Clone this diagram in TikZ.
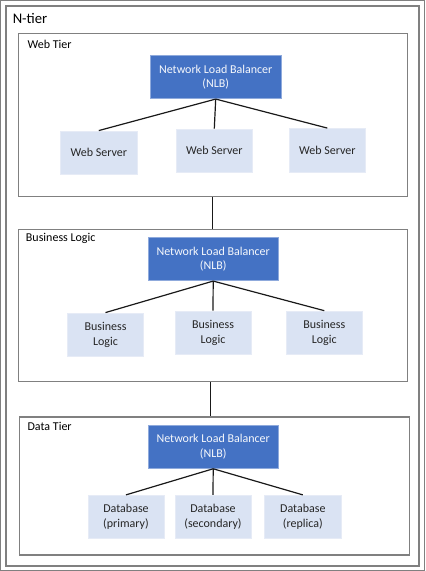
\documentclass[tikz,border=0pt]{standalone}
\usepackage{fontspec}
\setmainfont{Carlito}

\definecolor{nlbblue}{HTML}{4472C4}
\definecolor{nlbline}{HTML}{8FAADC}
\definecolor{srvfill}{HTML}{DAE3F3}
\definecolor{srvline}{HTML}{E6EBF6}
\definecolor{framegray}{HTML}{808080}

\tikzset{
    tierbox/.style={draw=framegray, line width=0.8pt, inner sep=0pt},
    tierlabel/.style={anchor=base west, inner sep=0pt, font=\fontsize{9}{11}\selectfont},
    nlbbox/.style={fill=nlbblue, draw=nlbline, line width=0.5pt, text=white!95!nlbblue,
        minimum width=97.9pt, minimum height=32.6pt, inner sep=0pt, align=center,
        font=\fontsize{9}{11}\selectfont},
    srvbox/.style={fill=srvfill, draw=srvline, line width=0.5pt, text=black!85,
        minimum width=57.2pt, minimum height=32.7pt, inner sep=0pt, align=center,
        font=\fontsize{9}{11}\selectfont},
    link/.style={line width=0.9pt, black!90}
}

\begin{document}
\begin{tikzpicture}[x=0.75pt, y=-0.75pt]

    % Fix the size of the picture
    \useasboundingbox (0,0) rectangle (425,571);

    % Outer border and the N-tier frame
    \draw[framegray, line width=1.1pt] (0.7,0.7) rectangle (424.3,570.3);
    \draw[framegray, line width=0.8pt] (6,6) rectangle (419,566);
    \node[anchor=base west, inner sep=0pt, font=\fontsize{11}{13}\selectfont] (ntier) at (12.5,23) {N-tier};

    % The three tiers
    \node[tierbox, minimum width=291.75pt, minimum height=122pt] (web) at (212.8,114.7) {};
    \node[tierbox, minimum width=291.75pt, minimum height=114pt] (biz) at (212.8,305.3) {};
    \node[tierbox, minimum width=292.2pt, minimum height=103.5pt] (data) at (214.5,486) {};

    % Tier names
    \node[tierlabel] (webname) at (27.3,48.3) {Web Tier};
    \node[tierlabel] (bizname) at (25.7,241.7) {Business Logic};
    \node[tierlabel] (dataname) at (27.3,430.3) {Data Tier};

    % Links between the tiers
    \draw[link] (web.south) -- (biz.north);
    \draw[link] ([xshift=-2pt]biz.south) -- ([xshift=-2pt]biz.south |- data.north);

    % Web tier
    \node[nlbbox] (nlbW) at (215.7,77) {Network Load Balancer\\(NLB)};
    \node[srvbox] (ws1) at (98.8,152.7) {Web Server};
    \node[srvbox] (ws2) at (214.3,150.8) {Web Server};
    \node[srvbox] (ws3) at (327.3,150.2) {Web Server};

    % Business logic tier
    \node[nlbbox] (nlbB) at (213.2,259) {Network Load Balancer\\(NLB)};
    \node[srvbox] (bl1) at (105.5,334.7) {Business\\Logic};
    \node[srvbox] (bl2) at (213,332.8) {Business\\Logic};
    \node[srvbox] (bl3) at (324.3,332.8) {Business\\Logic};

    % Data tier
    \node[nlbbox] (nlbD) at (213.2,446.7) {Network Load Balancer\\(NLB)};
    \node[srvbox] (db1) at (126,517) {Database\\(primary)};
    \node[srvbox] (db2) at (213,517) {Database\\(secondary)};
    \node[srvbox] (db3) at (302.8,517) {Database\\(replica)};

    % Links from each balancer to its servers
    \foreach \lb/\a/\b/\c in {nlbW/ws1/ws2/ws3, nlbB/bl1/bl2/bl3, nlbD/db1/db2/db3} {
        \draw[link] (\lb.south) -- (\a.north);
        \draw[link] (\lb.south) -- (\b.north);
        \draw[link] (\lb.south) -- (\c.north);
    }

\end{tikzpicture}
\end{document}
